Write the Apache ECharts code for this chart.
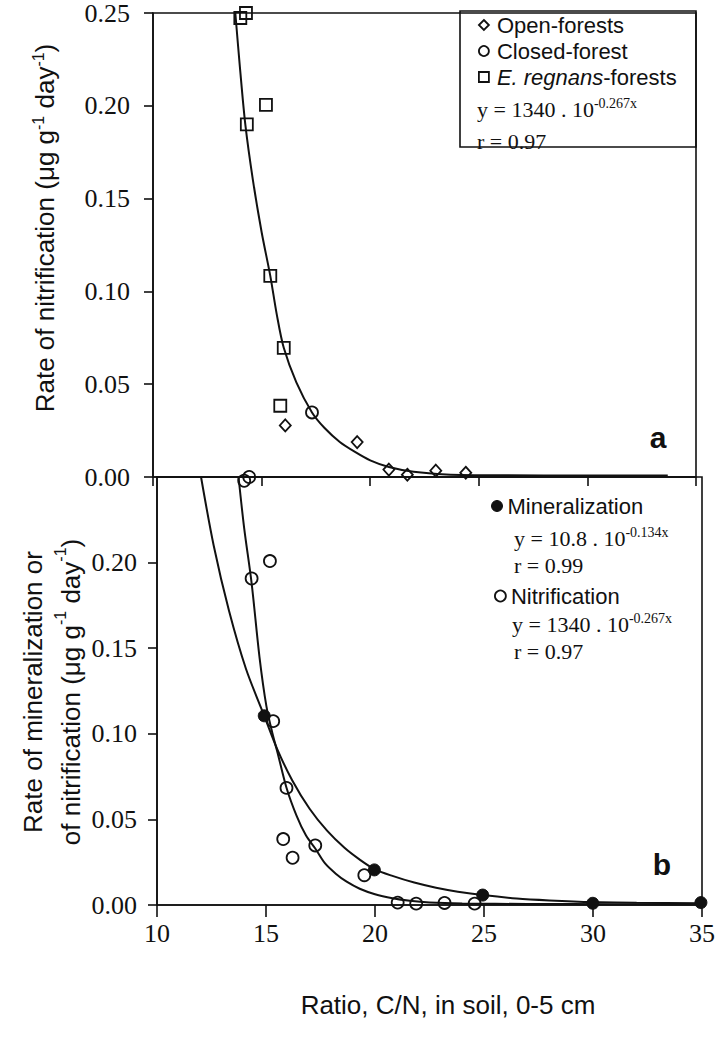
<!DOCTYPE html>
<html>
<head>
<meta charset="utf-8">
<script src="https://cdn.jsdelivr.net/npm/echarts@6/dist/echarts.min.js"></script>
<style>
html,body{margin:0;padding:0;background:#fff;}
#c{width:724px;height:1041px;}
</style>
</head>
<body>
<div id="c"></div>
<script>
// ---------- tick values ----------
const xTickValues = [10, 15, 20, 25, 30, 35];
const yTickValues = [0, 0.05, 0.10, 0.15, 0.20, 0.25];

// ---------- panel a : nitrification by forest type ----------
const openForestX   = [16.09, 19.40, 20.86, 21.71, 23.02, 24.40];
const openForestY   = [0.0278, 0.0188, 0.0040, 0.0012, 0.0034, 0.0023];
const closedForestX = [17.32];
const closedForestY = [0.0348];
const regnansX      = [14.02, 14.28, 15.20, 14.32, 15.40, 16.02, 15.86];
const regnansY      = [0.2473, 0.2500, 0.2005, 0.1900, 0.1084, 0.0696, 0.0384];
// fitted curve
const fitAX = [13.79, 14.0, 14.25, 14.6, 15.0, 15.4, 15.7, 16.02, 16.6, 17.32, 17.9, 18.6, 19.32, 20.0, 20.86, 22.0, 23.5, 26, 30, 33.7];
const fitAY = [0.25, 0.221, 0.19, 0.160, 0.132, 0.1084, 0.0875, 0.0696, 0.051, 0.0348, 0.0264, 0.0189, 0.0134, 0.0090, 0.0054, 0.0028, 0.0014, 0.0009, 0.0008, 0.0008];

// ---------- panel b : mineralization & nitrification ----------
const mineralX = [14.92, 19.97, 24.94, 29.99, 34.95];
const mineralY = [0.1105, 0.0205, 0.0058, 0.0010, 0.0014];
const nitrifX  = [14.00, 14.23, 15.18, 14.34, 15.33, 15.94, 15.79, 16.22, 17.26, 19.51, 21.04, 21.89, 23.19, 24.57];
const nitrifY  = [0.2478, 0.2500, 0.2009, 0.1907, 0.1074, 0.0684, 0.0385, 0.0276, 0.0348, 0.0174, 0.0014, 0.0008, 0.0012, 0.0008];
const fitMinX = [12.02, 12.6, 13.3, 14.08, 14.92, 15.53, 16.2, 17.0, 17.8, 18.6, 19.3, 19.97, 20.8, 21.8, 22.8, 23.8, 24.94, 26.5, 28, 30, 32, 35];
const fitMinY = [0.25, 0.210, 0.172, 0.138, 0.1105, 0.0906, 0.0729, 0.0562, 0.0434, 0.0334, 0.0265, 0.0210, 0.0170, 0.0131, 0.0101, 0.0078, 0.0058, 0.0038, 0.0027, 0.0017, 0.0013, 0.0010];
const fitNitX = [13.74, 14.0, 14.34, 14.7, 15.02, 15.3, 15.53, 15.94, 16.4, 16.83, 17.26, 17.7, 18.2, 18.7, 19.3, 20.0, 20.8, 21.6, 22.5, 24, 27, 31, 35];
const fitNitY = [0.25, 0.22, 0.188, 0.145, 0.116, 0.100, 0.089, 0.0685, 0.0522, 0.0407, 0.0330, 0.0244, 0.0183, 0.0136, 0.0095, 0.0063, 0.0040, 0.0025, 0.0015, 0.0009, 0.0006, 0.0005, 0.0005];

// ---------- styling ----------
const INK = '#111111';
const SERIF = '"Liberation Serif","Times New Roman",serif';
const SANS = '"Liberation Sans",Arial,sans-serif';
const CLEAR = 'rgba(255,255,255,0)';

const zip = (xs, ys) => xs.map((x, i) => [x, ys[i]]);

function yAxis(gridIndex, showMax, margin) {
  return {
    type: 'value', gridIndex,
    min: yTickValues[0], max: yTickValues[yTickValues.length - 1],
    interval: yTickValues[1] - yTickValues[0],
    axisLine: {show: true, onZero: false, lineStyle: {color: INK, width: 1.6}},
    axisTick: {show: true, inside: false, length: 9, lineStyle: {color: INK, width: 1.6}},
    axisLabel: {show: true, fontFamily: SERIF, fontSize: 26, color: INK, margin,
      showMaxLabel: showMax, showMinLabel: true, formatter: v => v.toFixed(2)},
    splitLine: {show: false}
  };
}
function xAxis(gridIndex, labels, tickLen) {
  return {
    type: 'value', gridIndex,
    min: xTickValues[0], max: xTickValues[xTickValues.length - 1],
    interval: xTickValues[1] - xTickValues[0],
    axisLine: {show: true, onZero: false, lineStyle: {color: INK, width: 1.6}},
    axisTick: {show: true, inside: false, length: tickLen, lineStyle: {color: INK, width: 1.6}},
    axisLabel: {show: labels, fontFamily: SERIF, fontSize: 26, color: INK, margin: 15},
    splitLine: {show: false}
  };
}

const openSym = {color: CLEAR, borderColor: INK, borderWidth: 1.8, opacity: 1};
const fullSym = {color: INK, borderColor: INK, borderWidth: 1, opacity: 1};
const fitLine = {color: INK, width: 2};

const supRich = (fs, lh, ff) => ({sup: {fontSize: fs, fontFamily: ff, fill: INK, verticalAlign: 'top', lineHeight: lh}});

function eqText(x, y, str) {
  return {type: 'text', x, y, z: 10, style: {
    text: str, fontFamily: SERIF, fontSize: 22, fill: INK, align: 'left', verticalAlign: 'middle',
    lineHeight: 26, rich: supRich(14, 12, SERIF)}};
}

const option = {
  animation: false,
  backgroundColor: '#fff',
  grid: [
    {left: 153, top: 11, width: 543, height: 466, show: true, borderColor: INK, borderWidth: 1.6, backgroundColor: 'transparent'},
    {left: 157, top: 477, width: 545, height: 428, show: true, borderColor: INK, borderWidth: 1.6, backgroundColor: 'transparent'}
  ],
  xAxis: [xAxis(0, false, 9), xAxis(1, true, 12)],
  yAxis: [yAxis(0, true, 23), yAxis(1, false, 20)],
  legend: [
    {left: 478, top: 14, orient: 'vertical', itemGap: 4, itemWidth: 10, itemHeight: 10, padding: 0,
     selectedMode: false,
     data: [
       {name: 'Open-forests', icon: 'diamond', itemStyle: openSym},
       {name: 'Closed-forest', icon: 'circle', itemStyle: openSym},
       {name: 'E. regnans-forests', icon: 'rect', itemStyle: openSym}
     ],
     formatter: n => n === 'E. regnans-forests' ? '{it|E. regnans}-forests' : n,
     textStyle: {fontFamily: SANS, fontSize: 22, color: INK, padding: [0, 0, 0, 3],
       rich: {it: {fontStyle: 'italic', fontFamily: SANS, fontSize: 22, color: INK}}}
    },
    {left: 491, top: 495, orient: 'vertical', itemWidth: 11, itemHeight: 11, padding: 0, selectedMode: false,
     data: [{name: 'Mineralization', icon: 'circle', itemStyle: fullSym}],
     textStyle: {fontFamily: SANS, fontSize: 22, color: INK}},
    {left: 494, top: 585, orient: 'vertical', itemWidth: 11, itemHeight: 11, padding: 0, selectedMode: false,
     data: [{name: 'Nitrification', icon: 'circle', itemStyle: openSym}],
     textStyle: {fontFamily: SANS, fontSize: 22, color: INK}}
  ],
  series: [
    {name: 'fit a', type: 'line', xAxisIndex: 0, yAxisIndex: 0, data: zip(fitAX, fitAY),
     symbol: 'none', showSymbol: false, smooth: 0.3, lineStyle: fitLine, z: 2, silent: true},
    {name: 'Open-forests', type: 'scatter', xAxisIndex: 0, yAxisIndex: 0, data: zip(openForestX, openForestY),
     symbol: 'diamond', symbolSize: [11, 12], itemStyle: openSym, clip: false, z: 3},
    {name: 'Closed-forest', type: 'scatter', xAxisIndex: 0, yAxisIndex: 0, data: zip(closedForestX, closedForestY),
     symbol: 'circle', symbolSize: 12, itemStyle: openSym, clip: false, z: 3},
    {name: 'E. regnans-forests', type: 'scatter', xAxisIndex: 0, yAxisIndex: 0, data: zip(regnansX, regnansY),
     symbol: 'rect', symbolSize: 12, itemStyle: openSym, clip: false, z: 3},

    {name: 'Mineralization fit', type: 'line', xAxisIndex: 1, yAxisIndex: 1, data: zip(fitMinX, fitMinY),
     symbol: 'none', showSymbol: false, smooth: 0.3, lineStyle: fitLine, z: 2, silent: true},
    {name: 'Nitrification fit', type: 'line', xAxisIndex: 1, yAxisIndex: 1, data: zip(fitNitX, fitNitY),
     symbol: 'none', showSymbol: false, smooth: 0.3, lineStyle: fitLine, z: 2, silent: true},
    {name: 'Mineralization', type: 'scatter', xAxisIndex: 1, yAxisIndex: 1, data: zip(mineralX, mineralY),
     symbol: 'circle', symbolSize: 12, itemStyle: fullSym, clip: false, z: 3},
    {name: 'Nitrification', type: 'scatter', xAxisIndex: 1, yAxisIndex: 1, data: zip(nitrifX, nitrifY),
     symbol: 'circle', symbolSize: 12, itemStyle: openSym, clip: false, z: 3}
  ],
  graphic: [
    // legend box of panel a
    {type: 'rect', z: 5, shape: {x: 460, y: 11, width: 236, height: 136},
     style: {fill: 'none', stroke: INK, lineWidth: 1.6}},
    eqText(477, 109, 'y = 1340 . 10{sup|-0.267x}'),
    eqText(477, 141, 'r = 0.97'),
    // panel b annotations
    eqText(514, 538, 'y = 10.8 . 10{sup|-0.134x}'),
    eqText(514, 565, 'r = 0.99'),
    eqText(512, 624, 'y = 1340 . 10{sup|-0.267x}'),
    eqText(514, 651, 'r = 0.97'),
    // panel letters
    {type: 'text', x: 658, y: 437, style: {text: 'a', fontFamily: SANS, fontWeight: 'bold', fontSize: 30, fill: INK, align: 'center', verticalAlign: 'middle'}},
    {type: 'text', x: 662, y: 864, style: {text: 'b', fontFamily: SANS, fontWeight: 'bold', fontSize: 30, fill: INK, align: 'center', verticalAlign: 'middle'}},
    // axis titles
    {type: 'text', x: 45, y: 228, rotation: Math.PI / 2, style: {
      text: 'Rate of nitrification (μg g{sup|-1} day{sup|-1})', fontFamily: SANS, fontSize: 26, fill: INK,
      align: 'center', verticalAlign: 'middle', lineHeight: 30, rich: supRich(16, 14, SANS)}},
    {type: 'text', x: 52, y: 692, rotation: Math.PI / 2, style: {
      text: 'Rate of mineralization or\nof nitrification (μg g{sup|-1} day{sup|-1})', fontFamily: SANS, fontSize: 26, fill: INK,
      align: 'center', verticalAlign: 'middle', lineHeight: 38, rich: supRich(16, 22, SANS)}},
    {type: 'text', x: 448, y: 1005, style: {
      text: 'Ratio, C/N, in soil, 0-5 cm', fontFamily: SANS, fontSize: 26, fill: INK,
      align: 'center', verticalAlign: 'middle'}}
  ]
};

const chart = echarts.init(document.getElementById('c'), null, {renderer: 'svg'});
chart.setOption(option);
</script>
</body>
</html>
